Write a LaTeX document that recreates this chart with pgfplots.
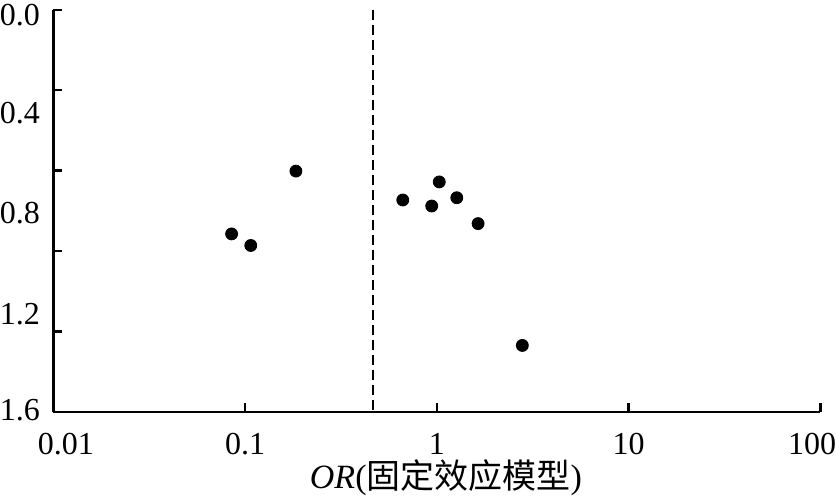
\documentclass[border=0pt]{standalone}
\usepackage{pgfplots}
\pgfplotsset{compat=1.18}
\usepackage{fontspec}
\setmainfont{Liberation Serif}
\newfontfamily\cjk{Noto Sans CJK SC}
\begin{document}
\begin{tikzpicture}
\begin{axis}[
  scale only axis,
  width=383.6pt, height=201pt,
  xmode=log, xmin=0.01, xmax=100,
  ymin=0, ymax=1.6, y dir=reverse,
  axis x line*=bottom, axis y line*=left,
  axis line style={line width=1.2pt, -},
  tick align=inside,
  major tick length=4.5pt,
  tick style={line width=1.2pt, black},
  xtick={0.01,0.1,1,10,100},
  xticklabels={,0.1,1,10,},
  xminorticks=false,
  ytick={0,0.32,0.64,0.96,1.28,1.6},
  yticklabels={},
  extra y ticks={0.02,0.41,0.808,1.21,1.594},
  extra y tick labels={0.0,0.4,0.8,1.2,1.6},
  extra y tick style={major tick length=0pt},
  ticklabel style={font=\fontsize{16}{18}\selectfont, inner sep=0pt},
  yticklabel style={xshift=-6.5pt, inner ysep=2pt},
  xticklabel style={yshift=-10.5pt},
  xlabel={\textit{OR}({\cjk 固定效应模型})},
  xlabel style={font=\fontsize{17}{20}\selectfont, yshift=1pt, xshift=4.5pt},
  clip=false,
]
\addplot[black, line width=1pt, dash pattern=on 5pt off 2.5pt] coordinates {(0.462,0) (0.462,1.6)};
\addplot[only marks, mark=*, mark size=3pt, black] coordinates {
(0.184,0.642)
(0.085,0.892)
(0.107,0.938)
(0.664,0.757)
(1.029,0.685)
(0.94,0.781)
(1.27,0.748)
(1.64,0.851)
(2.79,1.336)
};
\node[anchor=north west, inner sep=0pt, font=\fontsize{16}{18}\selectfont, xshift=-8pt, yshift=-10.5pt] at (axis cs:0.01,1.6) {0.01};
\node[anchor=north east, inner sep=0pt, font=\fontsize{16}{18}\selectfont, xshift=8pt, yshift=-10.5pt] at (axis cs:100,1.6) {100};
\end{axis}
\end{tikzpicture}
\end{document}
